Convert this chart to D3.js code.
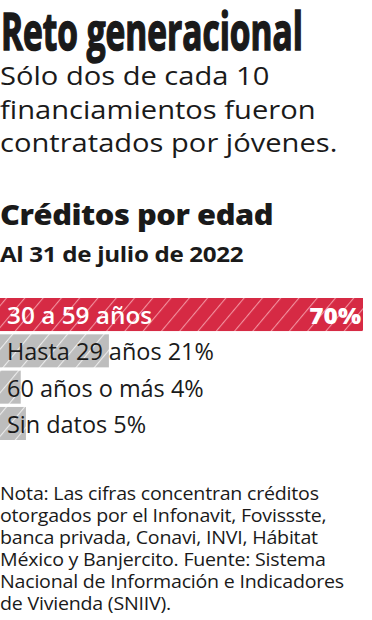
<!DOCTYPE html>
<html lang="es">
<head>
<meta charset="UTF-8">
<script src="https://d3js.org/d3.v7.min.js"></script>
<style>
  body { margin: 0; padding: 0; background: #fff; }
  svg { display: block; }
  text { font-family: "Open Sans", Lato, sans-serif; fill: #1a1a1a; }
</style>
</head>
<body>
<div id="chart"></div>
<script>
// datos
const categories = ["30 a 59 años", "Hasta 29 años", "60 años o más", "Sin datos"];
const values = [70, 21, 4, 5];
const highlight = [true, false, false, false];

const subtitleLines = ["Sólo dos de cada 10", "financiamientos fueron", "contratados por jóvenes."];
const noteLines = [
  "Nota: Las cifras concentran créditos",
  "otorgados por el Infonavit, Fovissste,",
  "banca privada, Conavi, INVI, Hábitat",
  "México y Banjercito. Fuente: Sistema",
  "Nacional de Información e Indicadores",
  "de Vivienda (SNIIV)."
];

const width = 372, height = 620;
const svg = d3.select("#chart").append("svg")
  .attr("width", width).attr("height", height);

// la tipografía original es más ancha que Open Sans: se estira en x
function label(parent, x, y, str, sx) {
  return parent.append("g")
    .attr("transform", `translate(${x},${y}) scale(${sx},1)`)
    .append("text")
    .text(str);
}

// patrones rayados
const defs = svg.append("defs");
function stripes(id, bg, line) {
  const p = defs.append("pattern")
    .attr("id", id)
    .attr("patternUnits", "userSpaceOnUse")
    .attr("width", 14).attr("height", 14)
    .attr("patternTransform", "rotate(40)");
  p.append("rect").attr("width", 14).attr("height", 14).attr("fill", bg);
  p.append("line").attr("x1", 0).attr("y1", 0).attr("x2", 0).attr("y2", 14)
    .attr("stroke", line).attr("stroke-width", 2.2);
}
stripes("redStripe", "#d62a44", "#f2929f");
stripes("greyStripe", "#bdbdbd", "#ececec");

// encabezado (condensado: se mide y se comprime)
const titleG = svg.append("g");
const title = titleG.append("text")
  .attr("font-family", "'DejaVu Sans Condensed', 'Liberation Sans Narrow', sans-serif")
  .attr("font-weight", 700)
  .attr("font-size", 52)
  .style("stroke", "#1a1a1a")
  .style("stroke-width", 1.6)
  .text("Reto generacional");
const tw = title.node().getComputedTextLength();
titleG.attr("transform", `translate(1,50) scale(${302 / tw},1)`);

subtitleLines.forEach((s, i) => {
  label(svg, 0, 85 + i * 33.5, s, 1.12).attr("font-size", 26);
});

label(svg, 0, 225, "Créditos por edad", 1.1)
  .attr("font-size", 28).attr("font-weight", 800)
  .style("letter-spacing", "-0.4px");

label(svg, 0, 262, "Al 31 de julio de 2022", 1.1)
  .attr("font-size", 22).attr("font-weight", 700)
  .style("letter-spacing", "-0.3px");

// barras
const x = d3.scaleLinear().domain([0, 70]).range([0, 363]);
const y = d3.scaleBand().domain(categories).range([298, 440]).paddingInner(0.09).paddingOuter(0);

const rows = svg.append("g").selectAll("g")
  .data(categories)
  .join("g");

rows.append("rect")
  .attr("x", x(0))
  .attr("y", d => y(d))
  .attr("width", (d, i) => x(values[i]))
  .attr("height", y.bandwidth())
  .attr("fill", (d, i) => highlight[i] ? "url(#redStripe)" : "url(#greyStripe)");

rows.each(function (d, i) {
  const row = d3.select(this);
  const base = y(d) + 26;
  if (highlight[i]) {
    label(row, 7, base, d, 1.06)
      .attr("font-size", 23).attr("font-weight", 600)
      .style("fill", "#fff");
    label(row, x(values[i]) - 2, base, `${values[i]}%`, 1.06)
      .attr("text-anchor", "end")
      .attr("font-size", 23).attr("font-weight", 800)
      .style("fill", "#fff");
  } else {
    label(row, 7, base, `${d} ${values[i]}%`, 1.02)
      .attr("font-size", 23);
  }
});

// nota
noteLines.forEach((s, i) => {
  label(svg, 0, 500 + i * 22, s, 1.09).attr("font-size", 18).style("letter-spacing", "-0.2px");
});
</script>
</body>
</html>
